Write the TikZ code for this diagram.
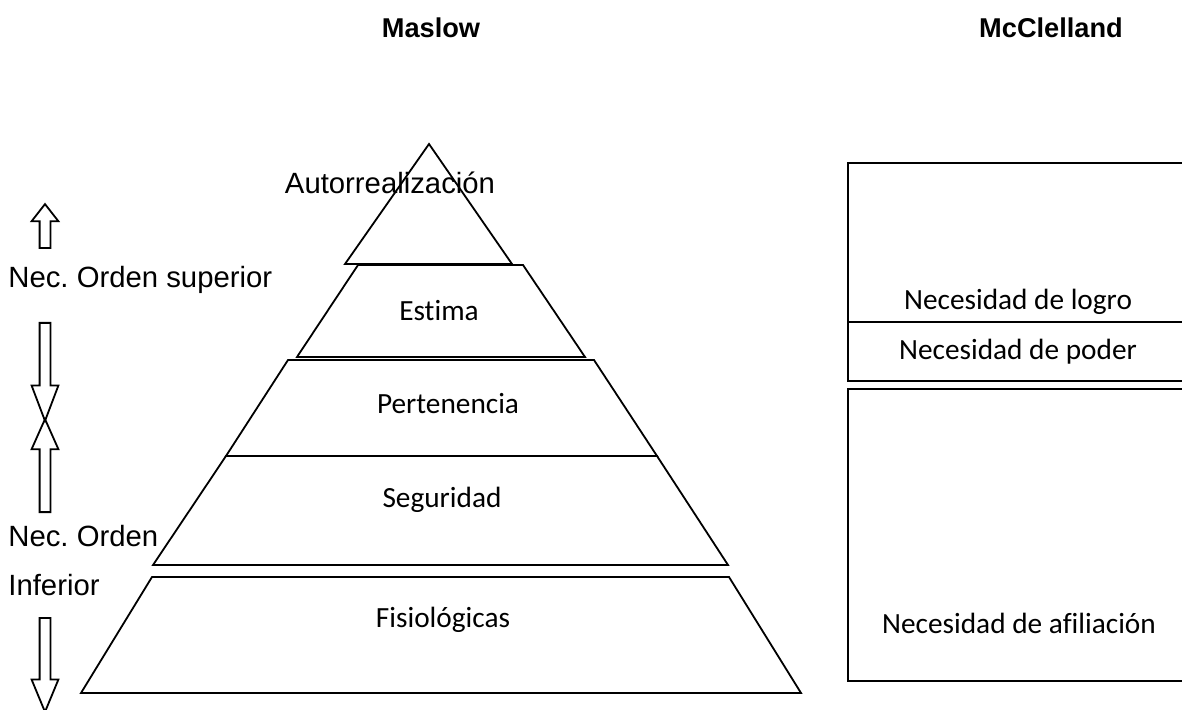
\documentclass[tikz,border=0pt]{standalone}
\usepackage{fontspec}
\setmainfont{Liberation Sans}
\newfontfamily\calibri[Ligatures=NoCommon]{Carlito}
\usetikzlibrary{shapes,arrows,positioning}
\frenchspacing
\tikzset{level-line/.style={line width=0.9pt, line join=miter}}
\tikzset{level-label/.style={font=\calibri\fontsize{14.65}{17}\selectfont, inner sep=0}}
\tikzset{side-label/.style={font=\fontsize{14.65}{17}\selectfont, inner sep=0}}
\tikzset{title-label/.style={font=\bfseries\fontsize{13.6}{16}\selectfont, inner sep=0}}
\tikzset{arrow-pointer/.style={
        single arrow,
        draw,
        line width=0.9pt,
        inner sep=2.25pt,
        single arrow head extend=4pt,
        anchor=tail
    }
}
\tikzset{need-box/.style={line width=0.9pt}}

\begin{document}
\begin{tikzpicture}[x=0.5pt, y=-0.5pt]
            \useasboundingbox (0,0) rectangle (1182,710);

            \node[title-label] (maslow) at (431,28) {Maslow};
            \node[title-label] (mcclelland) at (1051,28) {McClelland};

            % piramide
            \draw[level-line] (429,144) -- (512,264) -- (345,264) -- cycle;
            \draw[level-line] (358,265) -- (523,265) -- (585,357) -- (297,357) -- cycle;
            \draw[level-line] (288,360) -- (594,360) -- (657,456) -- (226,456) -- cycle;
            \draw[level-line] (226,456) -- (657,456) -- (728,565) -- (153,565) -- cycle;
            \draw[level-line] (152,577) -- (729,577) -- (801,693) -- (81,693) -- cycle;

            \node[side-label] (autorrealizacion) at (390,183) {Autorrealización};
            \node[level-label] (estima) at (439,311) {Estima};
            \node[level-label] (pertenencia) at (448,404) {Pertenencia};
            \node[level-label] (seguridad) at (442,500) {Seguridad};
            \node[level-label] (fisiologicas) at (443,620) {Fisiológicas};

            % lado izquierdo
            \node[side-label, anchor=west] (superior) at (8,280) {Nec. Orden superior};
            \node[side-label, anchor=west] (orden) at (8,536) {Nec. Orden};
            \node[side-label, anchor=west] (inferior) at (8,585) {Inferior};

            \node[arrow-pointer, rotate=90, minimum height=22pt, single arrow tip angle=76] (arrow1) at (45,249) {};
            \node[arrow-pointer, rotate=-90, minimum height=49pt, single arrow tip angle=41.5] (arrow2) at (45,322) {};
            \node[arrow-pointer, rotate=90, minimum height=46.5pt, single arrow tip angle=48] (arrow3) at (45,513) {};
            \node[arrow-pointer, rotate=-90, minimum height=47pt, single arrow tip angle=45] (arrow4) at (45,617) {};

            % McClelland
            \draw[need-box] (1190,163) -- (848,163) -- (848,381) -- (1190,381);
            \draw[need-box] (848,322) -- (1190,322);
            \draw[need-box] (1190,389) -- (848,389) -- (848,681) -- (1190,681);

            \node[level-label] (logro) at (1018,302) {Necesidad de logro};
            \node[level-label] (poder) at (1018,352) {Necesidad de poder};
            \node[level-label] (afiliacion) at (1019,623) {Necesidad de afiliación};

        \end{tikzpicture}
\end{document}
